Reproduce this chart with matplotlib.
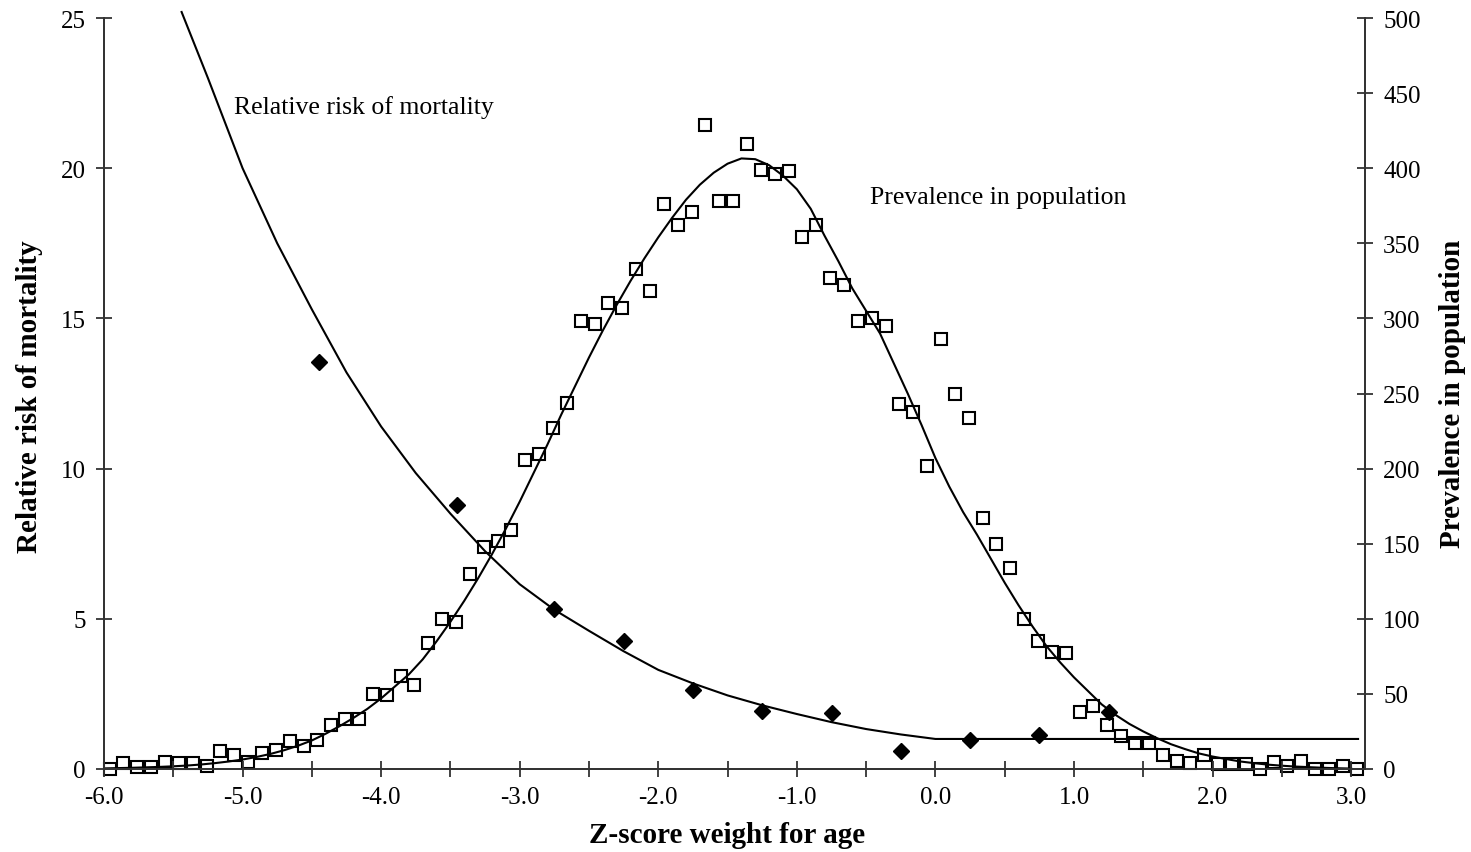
import numpy as np
import matplotlib
matplotlib.use('Agg')
from matplotlib import pyplot as plt
from matplotlib.ticker import FixedLocator

plt.rcParams['font.family'] = ['Liberation Serif', 'DejaVu Serif']

# -----------------------------
# data
# -----------------------------
# observed prevalence (right axis), bins of 0.1 z-score starting at -5.96
prev_z_start = -5.96
prev_obs = [0, 4, 1, 1, 4.5, 4, 4, 2, 12, 9.5,
            4.5, 10.5, 12.7, 18.8, 15.4, 19.6, 29.4, 33.4, 33.4, 50,
            49.3, 62, 56, 84, 100, 98, 130, 148, 152, 159,
            206, 210, 227, 244, 298, 296, 310, 307, 333, 318,
            376, 362, 371, 429, 378, 378, 416, 399, 396, 398,
            354, 362, 327, 322, 298, 300, 295, 243, 238, 202,
            286, 250, 234, 167, 150, 134, 100, 85, 78, 77,
            38, 42, 29, 22, 17, 17, 9, 5.5, 4, 9,
            3.3, 3, 3, 0, 4.5, 2, 5, 0, 0, 2,
            0]

# fitted prevalence curve, every 0.1 from -6.0 to 3.0
prev_fit = [0.4, 0.6, 0.8, 1.1, 1.4, 1.8, 2.3, 3.0, 3.9, 5.0,
            6.3, 8.0, 10.0, 12.5, 15.5, 19.0, 23.5, 28.5, 34.0, 40.0,
            47.0, 55.0, 63.0, 73.0, 85.0, 98.0, 112, 127, 143, 160,
            178, 197, 216, 236, 255, 274, 292, 309, 325, 340,
            354, 367, 379, 389, 397, 403, 406.5, 406, 402, 395,
            386, 373, 355, 338, 320, 305, 290, 270, 250, 229,
            207, 188, 171, 156, 140, 124, 109, 95, 82, 71,
            61, 52, 43, 36, 30, 25, 20.5, 16.5, 13.3, 10.4,
            8.3, 6.6, 5.0, 3.9, 2.9, 2.2, 1.6, 1.2, 0.8, 0.5,
            0.3]

# relative risk of mortality (left axis)
rr_z = [-4.45, -3.45, -2.75, -2.25, -1.75, -1.25, -0.75, -0.25, 0.25, 0.75, 1.25]
rr_obs = [13.55, 8.8, 5.33, 4.27, 2.64, 1.93, 1.86, 0.6, 0.97, 1.13, 1.9]

rr_fit_z = [-5.44, -5.25, -5.0, -4.75, -4.5, -4.25, -4.0, -3.75, -3.5, -3.25,
            -3.0, -2.75, -2.5, -2.25, -2.0, -1.75, -1.5, -1.25, -1.0, -0.75,
            -0.5, -0.25, 0.0, 3.05]
rr_fit = [25.2, 23.0, 20.0, 17.5, 15.3, 13.2, 11.4, 9.85, 8.5, 7.25,
          6.15, 5.3, 4.6, 3.92, 3.3, 2.85, 2.45, 2.12, 1.83, 1.56,
          1.33, 1.15, 1.0, 1.0]

prev_z = prev_z_start + 0.1 * np.arange(len(prev_obs))
fit_z = -6.0 + 0.1 * np.arange(len(prev_fit))

x_major = [-6.0, -5.0, -4.0, -3.0, -2.0, -1.0, 0.0, 1.0, 2.0, 3.0]

# -----------------------------
# plot
# -----------------------------
fig = plt.figure(figsize=(14.71, 8.53), dpi=100)
ax = fig.add_axes([104 / 1471, 83 / 853, 1261 / 1471, 751 / 853])
ax2 = ax.twinx()

ax2.plot(fit_z, prev_fit, color='k', lw=1.5, zorder=2)
ax2.plot(prev_z, prev_obs, ls='none', marker='s', ms=8, mew=1.5,
         mfc='none', mec='k', zorder=3, clip_on=False)

ax.plot(rr_fit_z, rr_fit, color='k', lw=1.5, clip_on=False, zorder=2)
ax.plot(rr_z, rr_obs, ls='none', marker='D', ms=8, color='k', zorder=3)

ax.set_zorder(ax2.get_zorder() + 1)
ax.patch.set_visible(False)

ax.set_xlim(-6.0, 3.1)
ax.set_ylim(0, 25)
ax2.set_ylim(0, 500)

ax.xaxis.set_major_locator(FixedLocator(x_major))
ax.xaxis.set_minor_locator(FixedLocator(np.arange(-5.5, 3.0, 1.0)))
ax.set_xticklabels(['%.1f' % v for v in x_major])
ax.set_yticks(np.arange(0, 26, 5))
ax2.set_yticks(np.arange(0, 501, 50))

for a in (ax, ax2):
    a.spines['top'].set_visible(False)
    for s in a.spines.values():
        s.set_linewidth(1.3)
        s.set_color('#333333')

ax.tick_params(axis='both', which='both', direction='inout', length=12,
               width=1.3, labelsize=18, color='#333333')
ax.tick_params(axis='x', pad=6)
ax.tick_params(axis='y', pad=7)
ax2.tick_params(axis='y', direction='inout', length=12, width=1.3,
                labelsize=18, pad=7, color='#333333')

# in-plot annotations
fig.text(234 / 1471, 1 - 108 / 853, 'Relative risk of mortality', fontsize=18.5,
         va='center', ha='left')
fig.text(870 / 1471, 1 - 198 / 853, 'Prevalence in population', fontsize=18.5,
         va='center', ha='left')

# axis titles
fig.text(727 / 1471, 1 - 836 / 853, 'Z-score weight for age', fontsize=21,
         fontweight='bold', ha='center', va='center')
fig.text(30 / 1471, 1 - 397 / 853, 'Relative risk of mortality', fontsize=21,
         fontweight='bold', rotation=90, ha='center', va='center')
fig.text(1453 / 1471, 1 - 394 / 853, 'Prevalence in population', fontsize=21,
         fontweight='bold', rotation=90, ha='center', va='center')

plt.savefig('out.png', dpi=100)
